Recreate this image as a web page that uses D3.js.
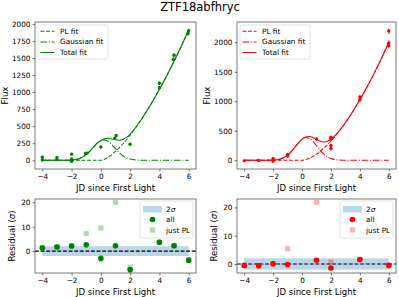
<!DOCTYPE html>
<html>
<head>
<meta charset="utf-8">
<script src="https://d3js.org/d3.v7.min.js"></script>
<style>
  body { margin: 0; background: #fff; }
  svg text { font-family: "DejaVu Sans", sans-serif; fill: #000; }
</style>
</head>
<body>
<svg class="chart"></svg>
<script>
// ---- data ----
const title = "ZTF18abfhryc";
const xTicks = [-4, -2, 0, 2, 4, 6];

// model curves, sampled
const fitT = [-4, -3, -2.5, -2, -1.5, -1, -0.75, -0.5, -0.25, 0, 0.25, 0.5, 0.75, 1, 1.25, 1.5, 1.75, 2, 2.5, 3, 3.5, 4, 4.5, 5, 5.5, 6];
const greenPL    = [0, 0, 0, 0, 0, 0, 0, 0, 0, 0, 16, 46, 84, 130, 182, 239, 301, 368, 514, 675, 851, 1040, 1241, 1453, 1677, 1910];
const greenGauss = [0, 0, 0.5, 4, 23, 83, 135, 194, 251, 290, 299, 277, 229, 170, 113, 67, 35, 17, 3, 0, 0, 0, 0, 0, 0, 0];
const greenTotal = [0, 0, 0.5, 4, 23, 83, 135, 194, 251, 290, 315, 323, 313, 300, 295, 306, 336, 385, 517, 675, 851, 1040, 1241, 1453, 1677, 1910];
const redPL    = [0, 0, 0, 0, 0, 0, 0, 0, 0, 0, 11, 33, 65, 104, 150, 203, 262, 326, 471, 638, 822, 1025, 1244, 1481, 1730, 1997];
const redGauss = [0, 0, 0.4, 3.5, 22, 86, 144, 218, 294, 355, 384, 371, 322, 249, 173, 107, 59, 30, 5, 0.6, 0, 0, 0, 0, 0, 0];
const redTotal = [0, 0, 0.4, 3.5, 22, 86, 144, 218, 294, 355, 395, 404, 387, 353, 323, 310, 321, 356, 476, 639, 822, 1025, 1244, 1481, 1730, 1997];

// photometry
const greenT    = [-4, -4, -3, -3, -2, -2, -2, -1.05, -0.95, 0, 0.95, 1.05, 2, 4, 4, 4.95, 5, 5.95, 6];
const greenFlux = [45, 5, 40, 10, 90, 20, -15, 100, 105, 195, 325, 365, 235, 1130, 1065, 1480, 1540, 1860, 1900];
const greenErr  = [20, 15, 20, 15, 20, 15, 15, 20, 20, 20, 20, 20, 20, 25, 25, 30, 30, 30, 30];
const redT    = [-4, -3, -2, -2, -1, -1, 1, 2, 2, 2, 2, 4, 4, 6, 6, 6];
const redFlux = [-10, -5, 30, -15, 100, 70, 360, 390, 360, 250, 200, 1070, 1030, 2190, 1990, 1945];
const redErr  = [15, 15, 20, 20, 20, 20, 20, 20, 20, 30, 30, 40, 40, 40, 40, 40];

// residuals
const greenResT   = [-4, -3, -2, -1, 0, 1, 2, 4, 5, 6];
const greenResAll = [1.3, 1.7, 2.1, 2.6, -3.0, 2.2, -7.6, 3.6, 2.2, -3.7];
const greenResPL  = [1.5, 1.8, 2.2, 7.2, 9.5, 20, -6.6, 3.7, 2.3, -3.6];
const redResT   = [-4, -3, -2, -1, 1, 2, 4, 6];
const redResAll = [-0.5, -0.6, 0.1, -0.2, 1.3, -1.4, 1.6, -0.5];
const redResPL  = [-0.5, -0.6, 0.1, 5.4, 21.8, 0.7, 1.6, -0.5];

const sigmaBand = [-2, 2];
const bandT = [-4, 6];

// ---- layout ----
const W = 399, H = 297;
const fs = 7.3;    // ticks, legend
const lfs = 8.6;   // axis labels
const svg = d3.select('.chart').attr('width', W).attr('height', H);

svg.append('text')
  .attr('x', 200).attr('y', 10.5)
  .attr('text-anchor', 'middle')
  .style('font-size', '11.5px')
  .text(title);

function padded(lo, hi) {
  let m = (hi - lo) * 0.05;
  return [lo - m, hi + m];
}

function makeAxes(box, xDom, yDom, yTicks, ylabel, labelOff) {
  let x = d3.scaleLinear().domain(xDom).range([box.x0, box.x1]);
  let y = d3.scaleLinear().domain(yDom).range([box.y1, box.y0]);
  let g = svg.append('g');

  g.append('g')
    .attr('transform', `translate(0,${box.y1})`)
    .call(d3.axisBottom(x).tickValues(xTicks).tickSize(2.5).tickPadding(2)
      .tickFormat(d => d < 0 ? '\u2212' + Math.abs(d) : d))
    .call(a => a.select('.domain').remove())
    .call(a => a.selectAll('line').attr('stroke', '#222').attr('stroke-width', 0.6))
    .call(a => a.selectAll('text').style('font-size', fs + 'px').style('font-family', 'DejaVu Sans'));

  g.append('g')
    .attr('transform', `translate(${box.x0},0)`)
    .call(d3.axisLeft(y).tickValues(yTicks).tickSize(2.5).tickPadding(2).tickFormat(d3.format('d')))
    .call(a => a.select('.domain').remove())
    .call(a => a.selectAll('line').attr('stroke', '#222').attr('stroke-width', 0.6))
    .call(a => a.selectAll('text').style('font-size', fs + 'px').style('font-family', 'DejaVu Sans'));

  let yl = g.append('text')
    .attr('transform', `translate(${box.x0 - labelOff},${(box.y0 + box.y1) / 2}) rotate(-90)`)
    .attr('text-anchor', 'middle')
    .style('font-size', lfs + 'px');
  ylabel.forEach(part => {
    yl.append('tspan').style('font-style', part[1] ? 'italic' : null).text(part[0]);
  });

  g.append('text')
    .attr('x', (box.x0 + box.x1) / 2)
    .attr('y', box.y1 + 21.8)
    .attr('text-anchor', 'middle')
    .style('font-size', lfs + 'px')
    .text('JD since First Light');

  g.append('rect')
    .attr('x', box.x0).attr('y', box.y0)
    .attr('width', box.x1 - box.x0).attr('height', box.y1 - box.y0)
    .attr('fill', 'none').attr('stroke', '#222').attr('stroke-width', 0.6);

  let clipId = 'clip' + Math.round(box.x0) + '_' + Math.round(box.y0);
  svg.append('clipPath').attr('id', clipId)
    .append('rect')
    .attr('x', box.x0).attr('y', box.y0)
    .attr('width', box.x1 - box.x0).attr('height', box.y1 - box.y0);
  let plot = g.insert('g', 'rect').attr('clip-path', `url(#${clipId})`);

  return { x, y, g, plot };
}

function drawFlux(box, color, T, F, E, pl, gauss, total, yTicks) {
  let lo = d3.min(F.map((f, i) => f - E[i]));
  let hi = d3.max(F.map((f, i) => f + E[i]).concat(total));
  let ax = makeAxes(box, padded(-4, 6), padded(lo, hi), yTicks, [['Flux', false]], 27.5);
  let line = vals => d3.line()
    .x((d, i) => ax.x(fitT[i]))
    .y(d => ax.y(d))
    .curve(d3.curveMonotoneX)(vals);

  ax.plot.append('path').attr('d', line(pl))
    .attr('fill', 'none').attr('stroke', color).attr('stroke-width', 1.05)
    .attr('stroke-dasharray', '3.9,1.7');
  ax.plot.append('path').attr('d', line(gauss))
    .attr('fill', 'none').attr('stroke', color).attr('stroke-width', 1.05)
    .attr('stroke-dasharray', '6.7,1.7,1.1,1.7');
  ax.plot.append('path').attr('d', line(total))
    .attr('fill', 'none').attr('stroke', color).attr('stroke-width', 1.05);

  let pts = T.map((t, i) => ({ t: t, f: F[i], e: E[i] }));
  ax.plot.selectAll('.eb')
    .data(pts).enter().append('line')
    .attr('x1', d => ax.x(d.t)).attr('x2', d => ax.x(d.t))
    .attr('y1', d => ax.y(d.f - d.e)).attr('y2', d => ax.y(d.f + d.e))
    .attr('stroke', color).attr('stroke-width', 1);
  ax.plot.selectAll('.pt')
    .data(pts).enter().append('circle')
    .attr('cx', d => ax.x(d.t)).attr('cy', d => ax.y(d.f))
    .attr('r', 1.7).attr('fill', color);

  // legend
  let lg = ax.g.append('g').attr('transform', `translate(${box.x0 + 3},${box.y0 + 3})`);
  lg.append('rect').attr('width', 70).attr('height', 34).attr('rx', 1.5)
    .attr('fill', 'white').attr('fill-opacity', 0.8)
    .attr('stroke', '#d0d0d0').attr('stroke-width', 0.6);
  let entries = [['PL fit', '3.9,1.7'], ['Gaussian fit', '6.7,1.7,1.1,1.7'], ['Total fit', null]];
  entries.forEach((en, i) => {
    let yy = 6.3 + i * 10.6;
    lg.append('line').attr('x1', 2.5).attr('x2', 16.5).attr('y1', yy).attr('y2', yy)
      .attr('stroke', color).attr('stroke-width', 1.05)
      .attr('stroke-dasharray', en[1]);
    lg.append('text').attr('x', 22).attr('y', yy).attr('dy', '0.35em')
      .style('font-size', fs + 'px').text(en[0]);
  });
}

function drawResid(box, color, T, all, justPL, yTicks) {
  let vals = all.concat(justPL, sigmaBand);
  let ax = makeAxes(box, padded(-4, 6), padded(d3.min(vals), d3.max(vals)), yTicks,
    [['Residual (', false], ['\u03c3', true], [')', false]], 20.5);

  ax.plot.append('rect')
    .attr('x', ax.x(bandT[0])).attr('width', ax.x(bandT[1]) - ax.x(bandT[0]))
    .attr('y', ax.y(sigmaBand[1])).attr('height', ax.y(sigmaBand[0]) - ax.y(sigmaBand[1]))
    .attr('fill', '#1f77b4').attr('fill-opacity', 0.3);

  ax.plot.append('line')
    .attr('x1', box.x0).attr('x2', box.x1)
    .attr('y1', ax.y(0)).attr('y2', ax.y(0))
    .attr('stroke', 'black').attr('stroke-width', 1.05).attr('stroke-dasharray', '3.9,1.7');

  ax.plot.selectAll('.pl')
    .data(T).enter().append('rect')
    .attr('x', (d) => ax.x(d) - 2.6).attr('y', (d, i) => ax.y(justPL[i]) - 2.6)
    .attr('width', 5.2).attr('height', 5.2)
    .attr('fill', color).attr('fill-opacity', 0.3);
  ax.plot.selectAll('.all')
    .data(T).enter().append('circle')
    .attr('cx', d => ax.x(d)).attr('cy', (d, i) => ax.y(all[i]))
    .attr('r', 2.8).attr('fill', color);

  // legend
  let lg = ax.g.append('g').attr('transform', `translate(${box.x1 - 56},${box.y0 + 2})`);
  lg.append('rect').attr('width', 53).attr('height', 37).attr('rx', 1.5)
    .attr('fill', 'white').attr('fill-opacity', 0.8)
    .attr('stroke', '#d0d0d0').attr('stroke-width', 0.6);
  lg.append('rect').attr('x', 3).attr('y', 5).attr('width', 19).attr('height', 6.5)
    .attr('fill', '#1f77b4').attr('fill-opacity', 0.3);
  let t2 = lg.append('text').attr('x', 26).attr('y', 8.3).attr('dy', '0.35em')
    .style('font-size', fs + 'px');
  t2.append('tspan').text('2');
  t2.append('tspan').style('font-style', 'italic').text('\u03c3');
  lg.append('circle').attr('cx', 12.5).attr('cy', 18.5).attr('r', 2.8).attr('fill', color);
  lg.append('text').attr('x', 26).attr('y', 18.5).attr('dy', '0.35em')
    .style('font-size', fs + 'px').text('all');
  lg.append('rect').attr('x', 9.9).attr('y', 26.4).attr('width', 5.2).attr('height', 5.2)
    .attr('fill', color).attr('fill-opacity', 0.3);
  lg.append('text').attr('x', 26).attr('y', 29).attr('dy', '0.35em')
    .style('font-size', fs + 'px').text('just PL');
}

const boxTL = { x0: 35, x1: 196, y0: 22, y1: 169 };
const boxTR = { x0: 237, x1: 396, y0: 22, y1: 169 };
const boxBL = { x0: 35, x1: 196, y0: 199, y1: 273 };
const boxBR = { x0: 237, x1: 396, y0: 199, y1: 273 };

drawFlux(boxTL, 'green', greenT, greenFlux, greenErr, greenPL, greenGauss, greenTotal,
  [0, 250, 500, 750, 1000, 1250, 1500, 1750, 2000]);
drawFlux(boxTR, 'red', redT, redFlux, redErr, redPL, redGauss, redTotal,
  [0, 500, 1000, 1500, 2000]);
drawResid(boxBL, 'green', greenResT, greenResAll, greenResPL, [0, 10, 20]);
drawResid(boxBR, 'red', redResT, redResAll, redResPL, [0, 10, 20]);
</script>
</body>
</html>
